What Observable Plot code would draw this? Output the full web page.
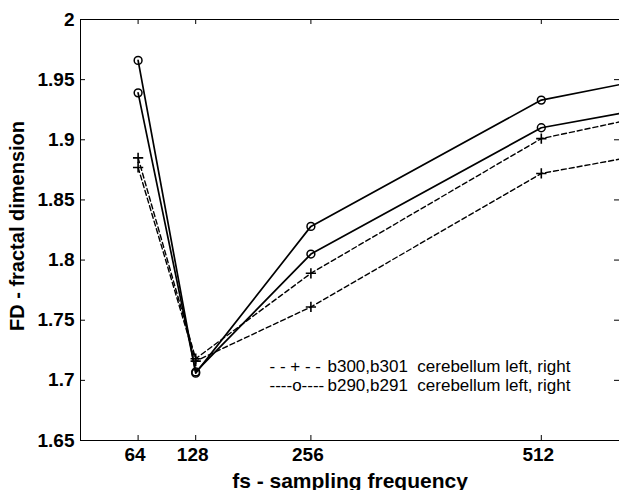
<!DOCTYPE html>
<html><head><meta charset="utf-8">
<script src="https://cdn.jsdelivr.net/npm/d3@7"></script>
<script src="https://cdn.jsdelivr.net/npm/@observablehq/plot@0.6"></script>
<style>
html,body{margin:0;padding:0;background:#fff;overflow:hidden}
svg text{white-space:pre}
</style></head><body><div id="chart"></div>
<script>
// sampling frequencies (last value = where the lines leave the frame on the right)
const fs = [64, 128, 256, 512, 600];
const markerMax = 512;
// fractal dimension series
const b290 = [1.966, 1.706, 1.828, 1.933, 1.946];
const b291 = [1.939, 1.707, 1.805, 1.910, 1.922];
const b300 = [1.885, 1.718, 1.789, 1.901, 1.915];
const b301 = [1.877, 1.716, 1.761, 1.872, 1.884];
// ticks
const xTicks = [64, 128, 256, 512];
const xTickLabels = ["64", "128", "256", "512"];
const yTicks = [1.65, 1.7, 1.75, 1.8, 1.85, 1.9, 1.95, 2];
const yTickLabels = ["1.65", "1.7", "1.75", "1.8", "1.85", "1.9", "1.95", "2"];
// texts
const legendKeys = ["- - + - -", "----o----"];
const legendTexts = ["b300,b301\u00a0 cerebellum left, right", "b290,b291\u00a0 cerebellum left, right"];
const xTitle = "fs - sampling frequency";
const yTitle = "FD - fractal dimension";

const series = [
  {name: "b290", kind: "o", values: b290},
  {name: "b291", kind: "o", values: b291},
  {name: "b300", kind: "+", values: b300},
  {name: "b301", kind: "+", values: b301}
];
const rows = series.flatMap(s => fs.map((f, i) => ({fs: f, fd: s.values[i], name: s.name, kind: s.kind})));
const solid = rows.filter(d => d.kind === "o");
const dashed = rows.filter(d => d.kind === "+");

const W = 619, H = 490, mL = 80, mT = 19, mB = 50, mR = 0;
const innerW = W - mL - mR, innerH = H - mT - mB, T = 5;
const font = "'Liberation Sans', Arial, Helvetica, sans-serif";

const legendMarks = legendKeys.flatMap((k, i) => [
  Plot.text([k], {frameAnchor: "top-left", dx: 189, dy: 352 + 19.3 * i, lineAnchor: "bottom",
    fontSize: 17, textAnchor: "start", text: d => d}),
  Plot.text([legendTexts[i]], {frameAnchor: "top-left", dx: 247, dy: 352 + 19.3 * i, lineAnchor: "bottom",
    fontSize: 17, textAnchor: "start", text: d => d})
]);

const chart = Plot.plot({
  width: W, height: H,
  marginLeft: mL, marginRight: mR, marginTop: mT, marginBottom: mB,
  style: {fontFamily: font, background: "#fff", color: "#000", overflow: "visible"},
  x: {domain: [0, 600], range: [80, 620], axis: null},
  y: {domain: [1.65, 2], axis: null},
  marks: [
    // frame (box; right edge falls just outside the picture)
    Plot.ruleY([1.65, 2], {stroke: "#000", strokeWidth: 1}),
    Plot.ruleX([0], {stroke: "#000", strokeWidth: 1}),
    // inward ticks on all sides
    Plot.ruleX(xTicks, {stroke: "#000", insetTop: innerH - T}),
    Plot.ruleX(xTicks, {stroke: "#000", insetBottom: innerH - T}),
    Plot.ruleY(yTicks, {stroke: "#000", insetRight: innerW - T}),
    Plot.ruleY(yTicks, {stroke: "#000", insetLeft: innerW - T}),
    // data
    Plot.line(dashed, {x: "fs", y: "fd", z: "name", stroke: "#000", strokeWidth: 1.4, strokeDasharray: "5,3", clip: true}),
    Plot.line(solid, {x: "fs", y: "fd", z: "name", stroke: "#000", strokeWidth: 1.7, clip: true}),
    Plot.dot(solid.filter(d => d.fs <= markerMax), {x: "fs", y: "fd", r: 3.9, stroke: "#000", fill: "none", strokeWidth: 1.5}),
    Plot.dot(dashed.filter(d => d.fs <= markerMax), {x: "fs", y: "fd", symbol: "plus", r: 3.4, stroke: "#000", strokeWidth: 1.6}),
    // tick labels
    Plot.text(xTicks, {x: d => d, frameAnchor: "bottom", dy: 7, dx: -3, lineAnchor: "top", fontSize: 19,
      fontWeight: "bold", text: (d, i) => xTickLabels[i]}),
    Plot.text(yTicks, {y: d => d, frameAnchor: "left", dx: -6, textAnchor: "end", lineAnchor: "middle", fontSize: 19,
      fontWeight: "bold", text: (d, i) => yTickLabels[i]}),
    // axis titles
    Plot.text([xTitle], {frameAnchor: "bottom", dy: 47, lineAnchor: "bottom", fontSize: 21, fontWeight: "bold",
      textAnchor: "middle", letterSpacing: "0.3px", text: d => d}),
    Plot.text([yTitle], {frameAnchor: "left", dx: -57, dy: -4, rotate: -90, lineAnchor: "bottom", fontSize: 20,
      fontWeight: "bold", textAnchor: "middle", letterSpacing: "0.8px", text: d => d}),
    // legend
    ...legendMarks
  ]
});
document.getElementById("chart").appendChild(chart);
</script>
</body></html>
